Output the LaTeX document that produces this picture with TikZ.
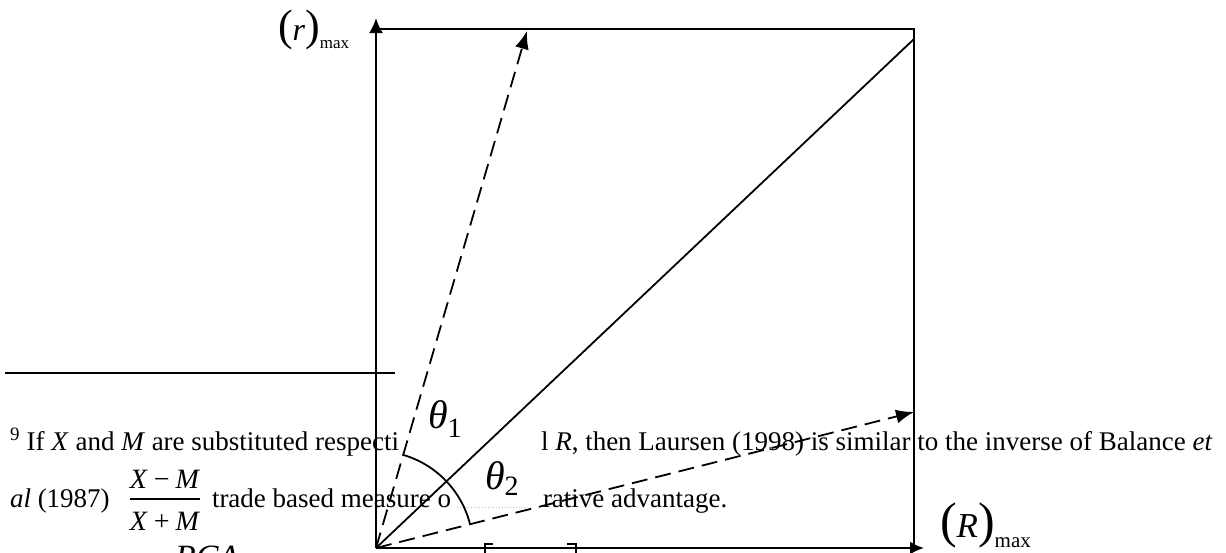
\documentclass[tikz,border=0pt]{standalone}
\usepackage{fontspec}
\setmainfont{Liberation Serif}
\usetikzlibrary{arrows.meta}
\begin{document}
\begin{tikzpicture}[x=1pt,y=-1pt,
  axis/.style={line width=2.2pt},
  thin line/.style={line width=1.8pt},
  dashedarrow/.style={line width=1.8pt, dash pattern=on 16pt off 8pt, -{Latex[length=18pt,width=14pt]}},
  txt/.style={inner sep=0pt, outer sep=0pt, anchor=base west, font=\fontsize{27}{32}\selectfont},
  lbl/.style={inner sep=0pt, outer sep=0pt, anchor=base west},
]
\useasboundingbox (0,0) rectangle (1226,552);
\clip (0,0) rectangle (1226,552);
% footnote text
\node[txt] (l1a) at (10,450) {\textsuperscript{9} If \textit{X} and \textit{M} are substituted respecti};
\node[txt] (l1b) at (541,450) {l \textit{R}, then Laursen (1998) is similar to the inverse of Balance \textit{et}};
\node[txt] (l2a) at (10,507) {\textit{al} (1987)};
\node[txt, anchor=base] (num) at (165,488) {\fontsize{28}{32}\selectfont\textit{X}\hspace{6pt}−\hspace{6pt}\textit{M}};
\node[txt, anchor=base] (den) at (165,530) {\fontsize{28}{32}\selectfont\textit{X}\hspace{6pt}+\hspace{6pt}\textit{M}};
\draw[line width=1.3pt] (num.south west |- 0,499) coordinate (fb1) -- (num.south east |- 0,499) coordinate (fb2);
\node[txt] (l2b) at (212,507) {trade based measure o};
\node[txt] (l2c) at (543,507) {rative advantage.};
\coordinate (g1) at (457,507);
\coordinate (g2) at (527,507);
\draw[gray!50, dotted, line width=0.8pt] (g1) -- (g2);
\coordinate (s1) at (5,373);
\coordinate (s2) at (395,373);
\draw[thin line] (s1) -- (s2);
% diagram
\coordinate (O) at (376,548);
\coordinate (Ytip) at (376,18);
\coordinate (Xtip) at (924,548);
\coordinate (TL) at (376,29);
\coordinate (TR) at (914,29);
\coordinate (BR) at (914,548);
\coordinate (D) at (914,39);
\coordinate (U) at (527,31);
\coordinate (V) at (914,412);
\draw[axis] (TL) -- (TR) -- (BR);
\draw[axis,-{Latex[length=15pt,width=14pt]}] (O) -- (Ytip);
\draw[axis,-{Latex[length=14pt,width=13pt]}] (O) -- (Xtip);
\draw[thin line] (O) -- (D);
\draw[dashedarrow] (O) -- (U);
\draw[dashedarrow] (O) -- (V);
\draw[thin line] (O) ++(14.2:97pt) arc[start angle=14.2, end angle=73.7, radius=97pt];
% labels
\node[lbl] (th1) at (428,428) {\fontsize{40}{40}\selectfont\textit{θ}\raisebox{-9pt}{\fontsize{28}{28}\selectfont 1}};
\node[lbl] (th2) at (485,489) {\fontsize{40}{40}\selectfont\textit{θ}\raisebox{-6pt}{\fontsize{28}{28}\selectfont 2}};
\node[lbl] (rmax) at (278,40) {\fontsize{44}{44}\selectfont(\fontsize{32}{32}\selectfont\textit{r}\fontsize{44}{44}\selectfont)\raisebox{-8pt}{\fontsize{17}{17}\selectfont max}};
\node[lbl] (Rmax) at (940,537) {\fontsize{50}{50}\selectfont(\fontsize{35}{35}\selectfont\textit{R}\fontsize{50}{50}\selectfont)\raisebox{-10pt}{\fontsize{21}{21}\selectfont max}};
% partially visible bottom line
\node[lbl] (rca) at (175,568) {\fontsize{34}{34}\selectfont\textit{RCA}};
\coordinate (bl1) at (493,544);
\coordinate (bl2) at (485,544);
\coordinate (bl3) at (485,560);
\coordinate (br1) at (567,544);
\coordinate (br2) at (576,544);
\coordinate (br3) at (576,560);
\draw[line width=1.2pt] (bl1) -- (bl2) -- (bl3);
\draw[line width=1.2pt] (br1) -- (br2) -- (br3);
\end{tikzpicture}
\end{document}
